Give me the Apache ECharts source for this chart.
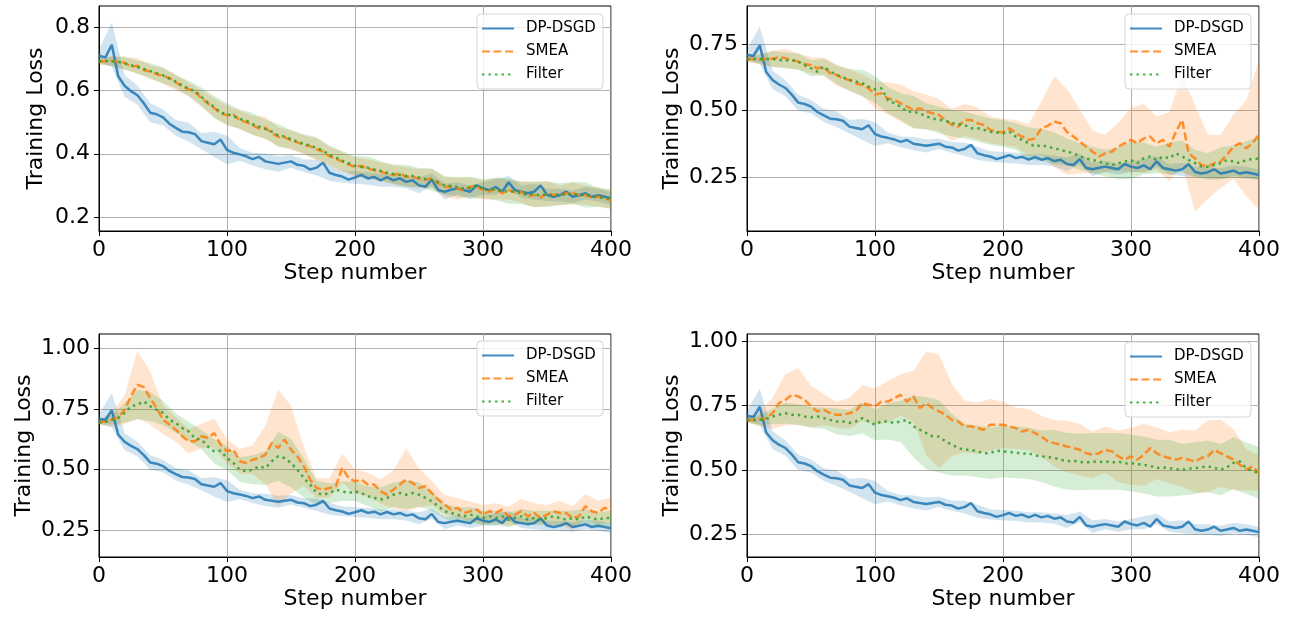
<!DOCTYPE html>
<html><head><meta charset="utf-8">
<script src="https://cdn.jsdelivr.net/npm/echarts/dist/echarts.min.js"></script>
<style>html,body{margin:0;padding:0;background:#fff}#c{width:1293px;height:620px}</style>
</head><body><div id="c"></div>
<script>
// x positions of the sampled points (every 5 steps) and of the band samples (every 10 steps)
const STEPS = Array.from({length: 81}, (_, i) => i * 5);
const BAND_STEPS = Array.from({length: 41}, (_, i) => i * 10);
const X_TICKS = [0, 100, 200, 300, 400];
const NAMES = ['DP-DSGD', 'SMEA', 'Filter'];

// DP-DSGD baseline (identical in all four panels)
const DP = [0.710,0.705,0.745,0.645,0.615,0.598,0.585,0.560,0.530,0.525,
 0.515,0.495,0.482,0.470,0.468,0.462,0.440,0.435,0.430,0.445,
 0.412,0.403,0.398,0.392,0.383,0.390,0.376,0.372,0.368,0.372,
 0.376,0.365,0.362,0.350,0.356,0.372,0.340,0.333,0.328,0.318,
 0.325,0.333,0.322,0.327,0.316,0.326,0.316,0.322,0.311,0.316,
 0.300,0.296,0.318,0.285,0.280,0.286,0.290,0.285,0.280,0.300,
 0.290,0.285,0.295,0.280,0.310,0.285,0.280,0.275,0.280,0.300,
 0.270,0.264,0.269,0.280,0.264,0.269,0.275,0.264,0.269,0.264,
 0.259];
const DP_W = [0.02,0.07,0.035,0.03,0.03,0.025,0.025,0.03,0.025,0.04,
 0.045,0.02,0.02,0.025,0.025,0.02,0.02,0.025,0.025,0.02,
 0.02,0.02,0.02,0.02,0.02,0.025,0.02,0.025,0.02,0.02,
 0.02,0.025,0.02,0.02,0.025,0.02,0.02,0.02,0.02,0.02,0.02];

// Panel 1
const P1_SMEA = [0.693,0.692,0.694,0.690,0.688,0.676,0.678,0.665,0.660,0.652,
 0.646,0.640,0.626,0.614,0.604,0.596,0.576,0.560,0.545,0.528,
 0.522,0.524,0.506,0.500,0.490,0.480,0.482,0.466,0.454,0.452,
 0.443,0.436,0.428,0.424,0.414,0.407,0.392,0.385,0.375,0.366,
 0.358,0.362,0.353,0.348,0.343,0.338,0.333,0.338,0.327,0.327,
 0.322,0.318,0.322,0.306,0.296,0.296,0.290,0.285,0.296,0.296,
 0.285,0.280,0.290,0.275,0.285,0.278,0.280,0.264,0.270,0.262,
 0.275,0.270,0.269,0.275,0.275,0.270,0.269,0.262,0.264,0.258,
 0.254];
const P1_SMEA_W = [0.01,0.015,0.02,0.025,0.02,0.025,0.025,0.02,0.025,0.03,
 0.03,0.03,0.03,0.035,0.03,0.03,0.03,0.035,0.03,0.03,
 0.03,0.03,0.03,0.03,0.03,0.03,0.03,0.03,0.035,0.03,
 0.03,0.035,0.03,0.035,0.04,0.04,0.03,0.035,0.03,0.03,0.03];
const P1_FILTER = [0.693,0.694,0.692,0.691,0.686,0.680,0.674,0.668,0.662,0.655,
 0.648,0.638,0.628,0.616,0.606,0.598,0.580,0.562,0.548,0.530,
 0.525,0.520,0.510,0.505,0.494,0.486,0.478,0.470,0.458,0.455,
 0.446,0.438,0.432,0.426,0.418,0.410,0.396,0.388,0.378,0.370,
 0.362,0.358,0.356,0.350,0.346,0.340,0.336,0.334,0.330,0.330,
 0.325,0.320,0.318,0.310,0.300,0.298,0.295,0.290,0.292,0.300,
 0.290,0.284,0.288,0.280,0.282,0.280,0.276,0.270,0.272,0.268,
 0.272,0.268,0.272,0.270,0.276,0.268,0.270,0.266,0.262,0.260,
 0.258];
const P1_FILTER_W = [0.01,0.015,0.02,0.02,0.025,0.025,0.02,0.025,0.03,0.035,
 0.035,0.03,0.035,0.03,0.035,0.03,0.03,0.035,0.03,0.03,
 0.03,0.035,0.03,0.03,0.035,0.03,0.035,0.03,0.03,0.035,
 0.03,0.035,0.04,0.035,0.04,0.04,0.035,0.035,0.04,0.03,0.03];

// Panel 2
const P2_SMEA = [0.694,0.694,0.692,0.694,0.695,0.700,0.697,0.690,0.684,0.675,
 0.670,0.659,0.664,0.640,0.634,0.621,0.615,0.603,0.596,0.584,
 0.560,0.565,0.546,0.540,0.528,0.515,0.503,0.509,0.496,0.490,
 0.484,0.465,0.446,0.440,0.465,0.465,0.453,0.446,0.428,0.420,
 0.420,0.434,0.415,0.403,0.390,0.396,0.434,0.443,0.459,0.453,
 0.420,0.403,0.384,0.365,0.346,0.328,0.340,0.346,0.365,0.378,
 0.390,0.378,0.396,0.403,0.378,0.390,0.365,0.420,0.465,0.340,
 0.321,0.296,0.290,0.303,0.309,0.334,0.365,0.378,0.359,0.378,
 0.410];
const P2_SMEA_W = [0.01,0.02,0.03,0.035,0.03,0.03,0.035,0.04,0.04,0.04,
 0.05,0.06,0.07,0.07,0.065,0.06,0.06,0.06,0.06,0.05,
 0.05,0.05,0.06,0.1,0.17,0.16,0.12,0.08,0.07,0.09,
 0.12,0.13,0.1,0.13,0.17,0.2,0.12,0.1,0.12,0.18,0.28];
const P2_FILTER = [0.694,0.694,0.694,0.694,0.694,0.690,0.688,0.690,0.684,0.671,
 0.659,0.646,0.665,0.646,0.634,0.625,0.615,0.609,0.603,0.590,
 0.580,0.584,0.540,0.528,0.515,0.496,0.496,0.490,0.478,0.471,
 0.465,0.463,0.453,0.450,0.446,0.434,0.434,0.428,0.421,0.418,
 0.415,0.421,0.403,0.390,0.378,0.365,0.371,0.365,0.359,0.353,
 0.346,0.340,0.328,0.321,0.315,0.309,0.303,0.296,0.303,0.309,
 0.315,0.303,0.321,0.328,0.315,0.328,0.321,0.340,0.328,0.315,
 0.303,0.290,0.290,0.296,0.303,0.315,0.309,0.303,0.315,0.318,
 0.321];
const P2_FILTER_W = [0.01,0.015,0.03,0.03,0.03,0.03,0.03,0.035,0.04,0.05,
 0.05,0.05,0.05,0.06,0.05,0.05,0.05,0.05,0.05,0.05,
 0.05,0.05,0.06,0.06,0.06,0.05,0.05,0.05,0.05,0.06,
 0.07,0.06,0.05,0.06,0.06,0.05,0.05,0.06,0.06,0.07,0.08];

// Panel 3
const P3_SMEA = [0.696,0.698,0.706,0.716,0.747,0.802,0.850,0.840,0.795,0.754,
 0.706,0.686,0.665,0.638,0.617,0.617,0.638,0.631,0.651,0.603,
 0.576,0.583,0.535,0.528,0.541,0.548,0.562,0.610,0.590,0.624,
 0.583,0.555,0.514,0.459,0.425,0.418,0.425,0.432,0.507,0.466,
 0.452,0.459,0.439,0.439,0.411,0.397,0.418,0.439,0.459,0.445,
 0.425,0.432,0.404,0.377,0.356,0.336,0.343,0.322,0.329,0.336,
 0.315,0.329,0.322,0.336,0.308,0.315,0.329,0.308,0.322,0.301,
 0.315,0.329,0.322,0.322,0.301,0.308,0.350,0.329,0.322,0.343,
 0.336];
const P3_SMEA_W = [0.01,0.03,0.06,0.14,0.11,0.06,0.05,0.05,0.05,0.06,
 0.05,0.05,0.06,0.12,0.24,0.18,0.08,0.04,0.04,0.06,
 0.05,0.05,0.05,0.08,0.13,0.08,0.05,0.04,0.04,0.04,
 0.04,0.04,0.04,0.05,0.04,0.04,0.05,0.05,0.05,0.05,0.05];
const P3_FILTER = [0.696,0.697,0.706,0.713,0.734,0.761,0.768,0.782,0.761,0.747,
 0.734,0.706,0.692,0.672,0.658,0.630,0.624,0.596,0.576,0.578,
 0.548,0.528,0.500,0.494,0.500,0.514,0.507,0.535,0.555,0.548,
 0.528,0.500,0.466,0.439,0.404,0.397,0.404,0.418,0.411,0.404,
 0.411,0.404,0.391,0.384,0.377,0.384,0.397,0.404,0.397,0.404,
 0.397,0.384,0.370,0.350,0.329,0.322,0.315,0.308,0.315,0.308,
 0.301,0.308,0.301,0.308,0.294,0.301,0.308,0.294,0.301,0.294,
 0.301,0.308,0.301,0.294,0.301,0.294,0.308,0.301,0.294,0.301,
 0.301];
const P3_FILTER_W = [0.01,0.02,0.04,0.06,0.06,0.05,0.04,0.04,0.04,0.05,
 0.05,0.05,0.06,0.07,0.1,0.1,0.08,0.05,0.04,0.04,
 0.04,0.04,0.05,0.05,0.06,0.05,0.04,0.03,0.03,0.03,
 0.03,0.03,0.03,0.03,0.03,0.03,0.03,0.03,0.03,0.03,0.03];

// Panel 4
const P4_SMEA = [0.694,0.694,0.697,0.701,0.720,0.759,0.772,0.791,0.785,0.772,
 0.746,0.727,0.733,0.720,0.714,0.714,0.720,0.727,0.759,0.753,
 0.746,0.765,0.765,0.778,0.791,0.765,0.785,0.740,0.759,0.740,
 0.727,0.714,0.694,0.688,0.669,0.669,0.662,0.656,0.675,0.675,
 0.675,0.669,0.662,0.649,0.656,0.643,0.630,0.611,0.604,0.598,
 0.591,0.585,0.578,0.565,0.559,0.565,0.578,0.572,0.553,0.540,
 0.553,0.540,0.559,0.585,0.565,0.553,0.546,0.540,0.546,0.540,
 0.533,0.546,0.553,0.578,0.565,0.553,0.540,0.520,0.501,0.514,
 0.488];
const P4_SMEA_W = [0.01,0.03,0.06,0.1,0.11,0.08,0.06,0.05,0.06,0.07,
 0.07,0.08,0.08,0.1,0.2,0.22,0.14,0.1,0.1,0.1,
 0.09,0.08,0.08,0.08,0.09,0.1,0.1,0.09,0.09,0.1,
 0.11,0.12,0.1,0.1,0.11,0.12,0.14,0.13,0.12,0.08,0.07];
const P4_FILTER = [0.694,0.694,0.694,0.698,0.707,0.714,0.720,0.714,0.714,0.707,
 0.704,0.707,0.701,0.694,0.688,0.688,0.682,0.688,0.701,0.688,
 0.675,0.688,0.688,0.682,0.688,0.694,0.669,0.656,0.643,0.630,
 0.630,0.611,0.598,0.585,0.578,0.578,0.572,0.565,0.565,0.575,
 0.572,0.570,0.568,0.562,0.565,0.556,0.553,0.550,0.546,0.540,
 0.533,0.536,0.531,0.528,0.533,0.530,0.533,0.528,0.533,0.525,
 0.527,0.522,0.520,0.516,0.507,0.510,0.507,0.503,0.501,0.505,
 0.507,0.510,0.514,0.508,0.501,0.510,0.527,0.533,0.507,0.495,
 0.488];
const P4_FILTER_W = [0.01,0.02,0.03,0.04,0.04,0.04,0.04,0.05,0.05,0.06,
 0.06,0.07,0.08,0.12,0.14,0.14,0.12,0.1,0.1,0.1,
 0.1,0.1,0.1,0.1,0.11,0.11,0.11,0.11,0.11,0.11,
 0.11,0.11,0.11,0.11,0.1,0.1,0.1,0.1,0.1,0.1,0.1];

const Y_TICKS_P1 = [0.2, 0.4, 0.6, 0.8];
const Y_TICKS_P2 = [0.25, 0.50, 0.75];
const Y_TICKS_P3 = [0.25, 0.50, 0.75, 1.00];
const Y_TICKS_P4 = [0.25, 0.50, 0.75, 1.00];

const FONT = 'DejaVu Sans';
const COLORS = ['#1f77b4', '#ff7f0e', '#2ca02c'];
const FILLS = ['rgba(31,119,180,0.2)', 'rgba(255,127,14,0.2)', 'rgba(44,160,44,0.2)'];
const LINE_TYPES = ['solid', [8, 3.5], [2.5, 4]];

const panels = [
  {grid: {left: 99, top: 6, width: 512, height: 225}, y: [0.1557, 0.8674], ticks: Y_TICKS_P1, dec: 1, nameGap: 52,
   legend: {left: 477, top: 14}, means: [DP, P1_SMEA, P1_FILTER], widths: [DP_W, P1_SMEA_W, P1_FILTER_W]},
  {grid: {left: 747, top: 6, width: 512, height: 225}, y: [0.0486, 0.8925], ticks: Y_TICKS_P2, dec: 2, nameGap: 64,
   legend: {left: 1125, top: 14}, means: [DP, P2_SMEA, P2_FILTER], widths: [DP_W, P2_SMEA_W, P2_FILTER_W]},
  {grid: {left: 99, top: 334, width: 512, height: 223}, y: [0.1405, 1.059], ticks: Y_TICKS_P3, dec: 2, nameGap: 64,
   legend: {left: 477, top: 341}, means: [DP, P3_SMEA, P3_FILTER], widths: [DP_W, P3_SMEA_W, P3_FILTER_W]},
  {grid: {left: 747, top: 334, width: 512, height: 223}, y: [0.1625, 1.027], ticks: Y_TICKS_P4, dec: 2, nameGap: 64,
   legend: {left: 1125, top: 342}, means: [DP, P4_SMEA, P4_FILTER], widths: [DP_W, P4_SMEA_W, P4_FILTER_W]}
];

// band polygon drawn through the axis scales (api.coord)
function bandSeries(gi, k, lo, hi) {
  const pts = BAND_STEPS.map((x, j) => [x, lo[j], hi[j]]);
  return {
    type: 'custom', xAxisIndex: gi, yAxisIndex: gi, silent: true, z: 2, clip: true,
    name: 'band' + gi + '_' + k,
    encode: {x: 0, y: [1, 2]},
    data: pts,
    renderItem: function (params, api) {
      if (params.dataIndex !== 0) return null;
      const upper = pts.map(p => api.coord([p[0], p[2]]));
      const lower = pts.map(p => api.coord([p[0], p[1]])).reverse();
      return {type: 'polygon', shape: {points: upper.concat(lower)}, style: {fill: FILLS[k], stroke: null}};
    }
  };
}

const grids = [], xAxes = [], yAxes = [], legends = [], series = [];
panels.forEach((p, gi) => {
  grids.push(Object.assign({show: true, borderColor: '#000', borderWidth: 1, backgroundColor: 'transparent'}, p.grid));
  xAxes.push({
    type: 'value', gridIndex: gi, min: 0, max: 400, interval: 100,
    name: 'Step number', nameLocation: 'middle', nameGap: 28,
    nameTextStyle: {fontSize: 22, color: '#000', fontFamily: FONT},
    axisLine: {onZero: false, lineStyle: {color: '#000', width: 1}},
    axisTick: {show: true, length: 5, lineStyle: {color: '#000'}},
    axisLabel: {fontSize: 22, color: '#000', fontFamily: FONT, margin: 8, showMinLabel: true, showMaxLabel: true},
    splitLine: {show: true, lineStyle: {color: '#b0b0b0', width: 1}}
  });
  yAxes.push({
    type: 'value', gridIndex: gi, min: p.y[0], max: p.y[1],
    name: 'Training Loss', nameLocation: 'middle', nameGap: p.nameGap, nameRotate: 90,
    nameTextStyle: {fontSize: 22, color: '#000', fontFamily: FONT},
    axisLine: {show: true, onZero: false, lineStyle: {color: '#000', width: 1}},
    axisTick: {show: true, length: 5, lineStyle: {color: '#000'}, customValues: p.ticks},
    axisLabel: {fontSize: 22, color: '#000', fontFamily: FONT, margin: 9, customValues: p.ticks,
                formatter: v => Number(v).toFixed(p.dec)},
    splitLine: {show: true, lineStyle: {color: '#b0b0b0', width: 1}}
  });
  legends.push({
    left: p.legend.left, top: p.legend.top, orient: 'vertical', data: NAMES,
    itemWidth: 32, itemHeight: 14, itemGap: 8, padding: [7, 7, 7, 4],
    backgroundColor: 'rgba(255,255,255,0.8)', borderColor: '#d5d5d5', borderWidth: 1, borderRadius: 4,
    textStyle: {fontSize: 15, color: '#000', fontFamily: FONT, padding: [0, 0, 0, 7]},
    itemStyle: {opacity: 0}, selectedMode: false
  });
  for (let k = 0; k < 3; k++) {
    const m = p.means[k], w = p.widths[k];
    const lo = BAND_STEPS.map((x, j) => m[j * 2] - w[j]);
    const hi = BAND_STEPS.map((x, j) => m[j * 2] + w[j]);
    series.push(bandSeries(gi, k, lo, hi));
    series.push({
      type: 'line', xAxisIndex: gi, yAxisIndex: gi, name: NAMES[k],
      symbol: 'none', showSymbol: false, z: 3,
      itemStyle: {color: COLORS[k]},
      lineStyle: {color: COLORS[k], width: 2.5, type: LINE_TYPES[k], opacity: 0.85},
      data: STEPS.map((x, i) => [x, m[i]])
    });
  }
});

const chart = echarts.init(document.getElementById('c'), null, {renderer: 'canvas'});
chart.setOption({
  animation: false,
  backgroundColor: '#fff',
  textStyle: {fontFamily: FONT},
  grid: grids, xAxis: xAxes, yAxis: yAxes, legend: legends, series
});
</script></body></html>
